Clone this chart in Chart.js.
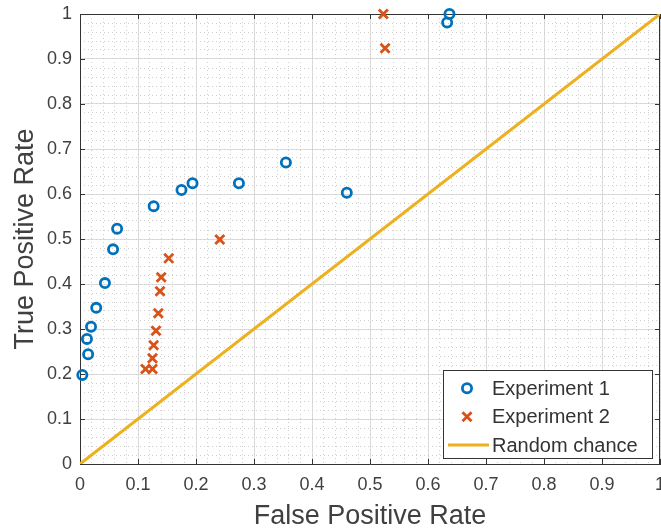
<!DOCTYPE html>
<html>
<head>
<meta charset="utf-8">
<title>ROC</title>
<script src="https://cdn.jsdelivr.net/npm/chart.js@4/dist/chart.umd.min.js"></script>
<style>
  html, body { margin: 0; padding: 0; background: #fff; }
  #wrap { width: 661px; height: 531px; }
</style>
</head>
<body>
<div id="wrap"><canvas id="roc" width="661" height="531"></canvas></div>
<script>
// experiment 1 operating points
var fpr1 = [0.004, 0.014, 0.012, 0.019, 0.028, 0.043, 0.057, 0.064, 0.127, 0.175, 0.194, 0.274, 0.355, 0.460, 0.633, 0.637];
var tpr1 = [0.198, 0.244, 0.278, 0.305, 0.347, 0.402, 0.477, 0.523, 0.573, 0.609, 0.624, 0.624, 0.670, 0.603, 0.981, 1.000];

// experiment 2 operating points
var fpr2 = [0.113, 0.125, 0.125, 0.127, 0.131, 0.135, 0.138, 0.140, 0.153, 0.241, 0.523, 0.526];
var tpr2 = [0.211, 0.211, 0.235, 0.264, 0.296, 0.335, 0.384, 0.415, 0.457, 0.499, 1.000, 0.924];

// diagonal
var chanceX = [0, 1];
var chanceY = [0, 1];

var labels = ['Experiment 1', 'Experiment 2', 'Random chance'];
var majorStep = 0.1;
var minorStep = 0.02;

function pts(xs, ys) {
  return xs.map(function (x, i) { return { x: x, y: ys[i] }; });
}

var FONT = "'Liberation Sans', Arial, Helvetica, sans-serif";
var INK = '#333333';
var LABEL = '#404040';

// inner ticks + top/right edges of the box
var boxFrame = {
  id: 'boxFrame',
  beforeDatasetsDraw: function (chart) {
    var ctx = chart.ctx, a = chart.chartArea;
    var xs = chart.scales.x, ys = chart.scales.y;
    ctx.save();
    ctx.strokeStyle = INK;
    ctx.lineWidth = 1;
    ctx.beginPath();
    ctx.moveTo(a.left, a.top + 0.5);
    ctx.lineTo(a.right, a.top + 0.5);
    ctx.moveTo(a.right - 0.5, a.top);
    ctx.lineTo(a.right - 0.5, a.bottom);
    xs.ticks.forEach(function (t) {
      var p = Math.round(xs.getPixelForValue(t.value)) + 0.5;
      ctx.moveTo(p, a.bottom); ctx.lineTo(p, a.bottom - 5);
      ctx.moveTo(p, a.top); ctx.lineTo(p, a.top + 5);
    });
    ys.ticks.forEach(function (t) {
      var p = Math.round(ys.getPixelForValue(t.value)) + 0.5;
      ctx.moveTo(a.left, p); ctx.lineTo(a.left + 5, p);
      ctx.moveTo(a.right, p); ctx.lineTo(a.right - 5, p);
    });
    ctx.stroke();
    ctx.restore();
  }
};

// legend box in the lower right corner
var cornerLegend = {
  id: 'cornerLegend',
  afterDraw: function (chart) {
    var ctx = chart.ctx, a = chart.chartArea;
    var w = 210, h = 89;
    var left = a.right - 7 - w, top = a.bottom - 5 - h;
    ctx.save();
    ctx.fillStyle = '#fff';
    ctx.fillRect(left, top, w, h);
    ctx.strokeStyle = INK;
    ctx.lineWidth = 1;
    ctx.strokeRect(left + 0.5, top + 0.5, w - 1, h - 1);
    ctx.font = '20px ' + FONT;
    ctx.textBaseline = 'middle';
    ctx.textAlign = 'left';
    chart.data.datasets.forEach(function (ds, i) {
      var cy = top + 18.3 + i * 28.4;
      var cx = left + 24;
      ctx.strokeStyle = ds.borderColor;
      ctx.lineWidth = ds.showLine ? ds.borderWidth : ds.pointBorderWidth;
      ctx.beginPath();
      if (ds.showLine) {
        ctx.moveTo(left + 5, cy);
        ctx.lineTo(left + 46, cy);
      } else if (ds.pointStyle === 'circle') {
        ctx.arc(cx, cy, ds.pointRadius, 0, Math.PI * 2);
      } else {
        var r = ds.pointRadius * Math.SQRT1_2;
        ctx.moveTo(cx - r, cy - r); ctx.lineTo(cx + r, cy + r);
        ctx.moveTo(cx + r, cy - r); ctx.lineTo(cx - r, cy + r);
      }
      ctx.stroke();
      ctx.fillStyle = INK;
      ctx.fillText(ds.label, left + 49, cy + 1);
    });
    ctx.restore();
  }
};

function tickText(v) {
  return String(Number(v.toFixed(1)));
}

new Chart(document.getElementById('roc'), {
  type: 'scatter',
  data: {
    datasets: [
      {
        label: labels[0],
        data: pts(fpr1, tpr1),
        pointStyle: 'circle',
        pointRadius: 4.6,
        pointBorderWidth: 2.8,
        borderColor: '#0072BD',
        pointBorderColor: '#0072BD',
        pointBackgroundColor: 'rgba(0,0,0,0)',
        clip: false,
        order: 2
      },
      {
        label: labels[1],
        data: pts(fpr2, tpr2),
        pointStyle: 'crossRot',
        pointRadius: 6.4,
        pointBorderWidth: 2.8,
        borderColor: '#D95319',
        pointBorderColor: '#D95319',
        clip: false,
        order: 1
      },
      {
        label: labels[2],
        data: pts(chanceX, chanceY),
        showLine: true,
        pointRadius: 0,
        borderWidth: 3,
        borderColor: '#EDB120',
        order: 0
      }
    ]
  },
  options: {
    responsive: false,
    animation: false,
    events: [],
    layout: { autoPadding: false, padding: { top: 14, right: 1, left: 0, bottom: 0 } },
    plugins: { legend: { display: false }, tooltip: { enabled: false } },
    scales: {
      x: {
        type: 'linear', position: 'bottom', min: 0, max: 1,
        ticks: { stepSize: majorStep, padding: 10, color: LABEL, font: { family: FONT, size: 18 }, callback: tickText, maxRotation: 0 },
        grid: { color: '#dcdcdc', drawTicks: false },
        border: { display: true, color: INK, width: 1 },
        title: { display: true, text: 'False Positive Rate', color: LABEL, font: { family: FONT, size: 27, lineHeight: 1.1 }, padding: { top: 0, bottom: 0 } },
        afterFit: function (s) { s.height = 67; s.paddingLeft = 0; s.paddingRight = 0; }
      },
      y: {
        type: 'linear', position: 'left', min: 0, max: 1,
        ticks: { stepSize: majorStep, padding: 8, color: LABEL, font: { family: FONT, size: 18 }, callback: tickText },
        grid: { color: '#dcdcdc', drawTicks: false },
        border: { display: true, color: INK, width: 1 },
        title: { display: true, text: 'True Positive Rate', color: LABEL, font: { family: FONT, size: 27, lineHeight: 1.1 }, padding: { top: 11, bottom: 0 } },
        afterFit: function (s) { s.width = 80; s.paddingTop = 0; s.paddingBottom = 0; }
      },
      // dotted minor grid
      x2: {
        type: 'linear', position: 'bottom', min: 0, max: 1,
        ticks: { display: false, stepSize: minorStep },
        grid: { color: '#cfcfcf', drawTicks: false, borderDash: [1, 3] },
        border: { display: false, dash: [1, 3] }
      },
      y2: {
        type: 'linear', position: 'left', min: 0, max: 1,
        ticks: { display: false, stepSize: minorStep },
        grid: { color: '#cfcfcf', drawTicks: false, borderDash: [1, 3] },
        border: { display: false, dash: [1, 3] }
      }
    }
  },
  plugins: [boxFrame, cornerLegend]
});
</script>
</body>
</html>
